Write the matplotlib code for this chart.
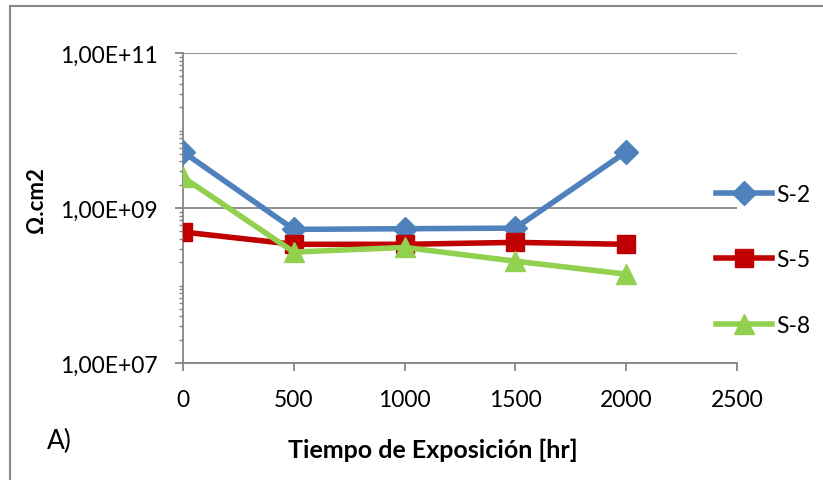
import matplotlib
matplotlib.use("Agg")
import matplotlib.pyplot as plt
from matplotlib.ticker import FixedLocator, FuncFormatter, NullFormatter
from matplotlib.patches import Rectangle
import numpy as np

hours = [0, 500, 1000, 1500, 2000]
s2 = [5.3e9, 5.3e8, 5.4e8, 5.5e8, 5.3e9]
s5 = [4.9e8, 3.4e8, 3.4e8, 3.6e8, 3.4e8]
s8 = [2.5e9, 2.7e8, 3.1e8, 2.06e8, 1.4e8]
labels = ["S-2", "S-5", "S-8"]
xticks = [0, 500, 1000, 1500, 2000, 2500]
ymajor = [1e7, 1e9, 1e11]

plt.rcParams['font.family'] = ['Lato', 'DejaVu Sans']

fig = plt.figure(figsize=(8.23, 4.81), dpi=100)
fig.patches.append(Rectangle((10/823, -0.1), 1.2, 1 - 7/481 + 0.1, transform=fig.transFigure,
                             fill=False, edgecolor='#898989', linewidth=1.5))
ax = fig.add_axes([183/823, 1 - 364/481, 554/823, 310/481])

grid_c = '#868686'
ax.plot(hours, s2, color='#4F81BD', lw=4, marker='D', ms=12, label=labels[0], zorder=3)
ax.plot(hours, s5, color='#C00000', lw=4, marker='s', ms=12.5, label=labels[1], zorder=4)
ax.plot(hours, s8, color='#92D050', lw=4, marker='^', ms=15, label=labels[2], zorder=5)

ax.set_yscale('log')
ax.set_ylim(1e7, 1e11)
ax.set_xlim(0, 2500)
ax.set_xticks(xticks)
ax.yaxis.set_major_locator(FixedLocator(ymajor))
minors = [m * 10.0**e for e in range(7, 11) for m in range(1, 10) if m * 10.0**e not in ymajor]
ax.yaxis.set_minor_locator(FixedLocator(minors))
ax.yaxis.set_minor_formatter(NullFormatter())

def fmt(v, pos):
    e = int(round(np.log10(v)))
    return "1,00E+%02d" % e
ax.yaxis.set_major_formatter(FuncFormatter(fmt))

for s in ['top', 'right']:
    ax.spines[s].set_visible(False)
for s in ['left', 'bottom']:
    ax.spines[s].set_color(grid_c)
    ax.spines[s].set_linewidth(1.3)
ax.grid(True, which='major', axis='y', color=grid_c, lw=1.3)
ax.tick_params(axis='both', which='major', color=grid_c, length=6, width=1.3, labelsize=16.5)
ax.tick_params(axis='y', which='major', pad=12)
ax.tick_params(axis='y', which='minor', color=grid_c, length=3, width=1.0)
ax.tick_params(axis='x', pad=13)
ax.set_axisbelow(True)

fig.text(37/823, 1 - 200/481, 'Ω.cm2', fontsize=16, fontweight='bold', rotation=90,
         ha='center', va='center')
fig.text(433/823, 1 - 450/481, 'Tiempo de Exposición [hr]', fontsize=18, fontweight='bold',
         ha='center', va='center')
fig.text(47/823, 1 - 441/481, 'A)', fontsize=19, va='center', ha='left')

leg = ax.legend(loc='center left', bbox_to_anchor=(716/823, 1 - 261/481), bbox_transform=fig.transFigure,
                frameon=False, fontsize=16.5, labelspacing=1.95, handlelength=2.45, handletextpad=0.18,
                borderaxespad=0, borderpad=0)

fig.savefig('out.png', dpi=100)
